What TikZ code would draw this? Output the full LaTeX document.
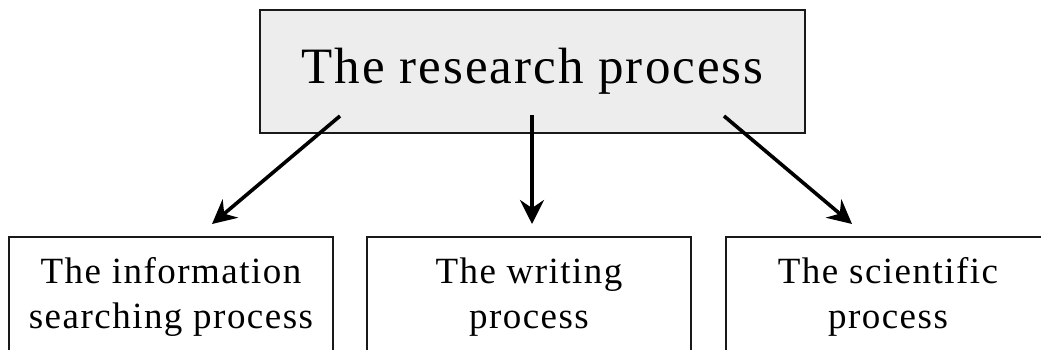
\documentclass[tikz,border=0pt]{standalone}
\usepackage{fontspec}
\setmainfont{Liberation Serif}[LetterSpace=4]
\usetikzlibrary{arrows.meta}
\begin{document}
\begin{tikzpicture}[x=1pt,y=-1pt,
  topbox/.style={draw=black!90, fill=black!7, line width=2pt, minimum width=545pt, minimum height=123pt, inner sep=0pt, font=\fontsize{51}{55}\selectfont},
  subbox/.style={draw=black!90, fill=white, line width=2pt, minimum width=324pt, minimum height=120pt, inner sep=0pt, align=center, font=\fontsize{37}{45}\selectfont},
  link/.style={line width=3.6pt, -{Stealth[length=24pt,width=24pt,inset=8pt]}}]
\useasboundingbox (0,0) rectangle (1041,350);
\clip (0,0) rectangle (1041,350);
\node[topbox] (top) at (532.5,71.5) {The research process};
\node[subbox] (info) at (171,297) {The information\\searching process};
\node[subbox] (writ) at (529,297) {The writing\\process};
\node[subbox] (sci) at (888,297) {The scientific\\process};
\coordinate (s1) at (340,116);
\coordinate (e1) at (212,224);
\coordinate (s2) at (532,115);
\coordinate (e2) at (532,224);
\coordinate (s3) at (724,116);
\coordinate (e3) at (852,224);
\draw[link] (s1) -- (e1);
\draw[link] (s2) -- (e2);
\draw[link] (s3) -- (e3);
\end{tikzpicture}
\end{document}
